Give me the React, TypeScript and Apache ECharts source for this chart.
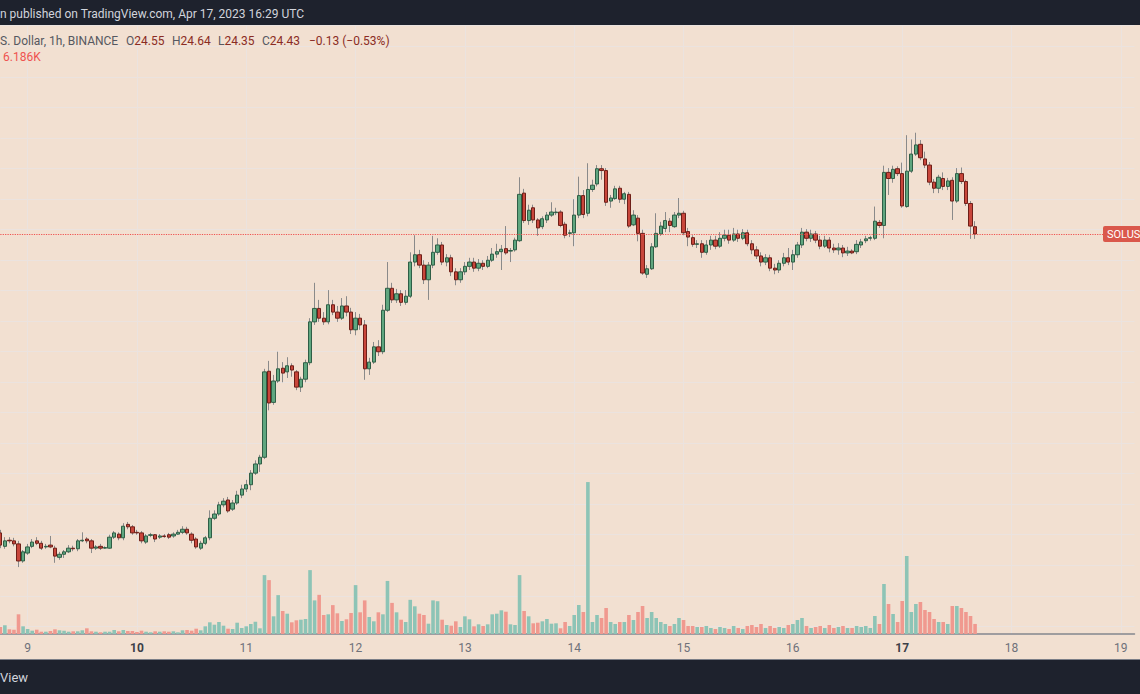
import React, { useEffect, useRef } from "react";
import * as echarts from "echarts";

// Hourly SOL/USD candles, first one at Apr 8 18:00, last at Apr 17 16:00
const opens = [
  19.53, 19.31, 19.41, 19.40, 19.35, 19.07, 19.20, 19.31, 19.40, 19.36,
  19.30, 19.33, 19.28, 19.13, 19.18, 19.22, 19.28, 19.27, 19.40, 19.43,
  19.40, 19.28, 19.31, 19.28, 19.28, 19.46, 19.51, 19.45, 19.67, 19.63,
  19.54, 19.53, 19.38, 19.49, 19.50, 19.46, 19.48, 19.50, 19.48, 19.51,
  19.54, 19.59, 19.51, 19.43, 19.28, 19.36, 19.45, 19.77, 19.84, 19.99,
  20.07, 19.92, 20.02, 20.15, 20.25, 20.32, 20.51, 20.66, 20.77, 22.18,
  21.67, 22.02, 22.23, 22.17, 22.27, 22.17, 21.92, 22.05, 22.32, 22.99,
  23.21, 23.05, 22.99, 23.27, 23.15, 23.05, 23.25, 23.15, 22.86, 23.05,
  22.94, 22.22, 22.33, 22.58, 22.50, 23.18, 23.54, 23.35, 23.45, 23.31,
  23.41, 23.97, 24.09, 23.92, 23.68, 23.92, 24.13, 24.25, 23.97, 24.04,
  23.81, 23.68, 23.81, 23.90, 23.97, 23.87, 23.95, 23.90, 24.00, 24.10,
  24.14, 24.19, 24.15, 24.17, 24.32, 25.10, 24.65, 24.86, 24.66, 24.55,
  24.66, 24.74, 24.78, 24.79, 24.59, 24.44, 24.45, 24.74, 25.06, 24.77,
  25.16, 25.25, 25.50, 25.47, 24.97, 25.01, 25.18, 25.00, 25.08, 24.58,
  24.69, 24.44, 23.77, 23.86, 24.22, 24.43, 24.52, 24.64, 24.55, 24.74,
  24.77, 24.47, 24.37, 24.26, 24.27, 24.13, 24.25, 24.33, 24.23, 24.36,
  24.41, 24.33, 24.43, 24.36, 24.45, 24.27, 24.17, 24.07, 23.97, 24.04,
  23.87, 23.84, 23.95, 24.04, 23.97, 24.09, 24.25, 24.46, 24.36, 24.43,
  24.33, 24.23, 24.33, 24.20, 24.17, 24.20, 24.12, 24.15, 24.14, 24.25,
  24.32, 24.36, 24.36, 24.62, 24.57, 25.44, 25.34, 25.50, 25.42, 24.88,
  25.46, 25.74, 25.90, 25.66, 25.56, 25.28, 25.18, 25.34, 25.21, 25.31,
  24.97, 25.42, 25.29, 24.93, 24.55
];
const closes = [
  19.33, 19.40, 19.40, 19.35, 19.07, 19.22, 19.30, 19.38, 19.36, 19.28,
  19.31, 19.30, 19.15, 19.18, 19.22, 19.28, 19.27, 19.40, 19.41, 19.40,
  19.28, 19.30, 19.28, 19.29, 19.46, 19.53, 19.45, 19.64, 19.63, 19.53,
  19.53, 19.40, 19.48, 19.50, 19.43, 19.48, 19.47, 19.46, 19.51, 19.54,
  19.59, 19.53, 19.41, 19.30, 19.36, 19.45, 19.77, 19.84, 19.99, 20.05,
  19.89, 20.02, 20.15, 20.25, 20.32, 20.51, 20.66, 20.77, 22.17, 21.66,
  22.02, 22.22, 22.15, 22.27, 22.20, 21.92, 22.05, 22.32, 22.99, 23.21,
  23.05, 22.99, 23.27, 23.15, 23.05, 23.25, 23.15, 22.86, 23.05, 22.94,
  22.22, 22.33, 22.58, 22.50, 23.18, 23.54, 23.35, 23.45, 23.31, 23.41,
  23.97, 24.09, 23.92, 23.68, 23.92, 24.13, 24.25, 23.97, 24.04, 23.81,
  23.68, 23.81, 23.90, 23.97, 23.87, 23.95, 23.90, 24.00, 24.10, 24.14,
  24.18, 24.12, 24.16, 24.33, 25.08, 24.65, 24.82, 24.66, 24.53, 24.68,
  24.74, 24.79, 24.79, 24.57, 24.41, 24.45, 24.74, 25.06, 24.75, 25.16,
  25.23, 25.50, 25.47, 24.95, 25.02, 25.17, 25.00, 25.09, 24.56, 24.74,
  24.44, 23.79, 23.86, 24.22, 24.44, 24.56, 24.65, 24.57, 24.74, 24.77,
  24.45, 24.38, 24.26, 24.27, 24.13, 24.25, 24.33, 24.23, 24.36, 24.41,
  24.33, 24.43, 24.36, 24.45, 24.27, 24.17, 24.07, 23.97, 24.04, 23.87,
  23.84, 23.95, 24.04, 23.97, 24.09, 24.25, 24.46, 24.36, 24.43, 24.33,
  24.23, 24.33, 24.20, 24.17, 24.20, 24.12, 24.15, 24.12, 24.26, 24.30,
  24.35, 24.37, 24.64, 24.57, 25.44, 25.34, 25.49, 25.42, 24.89, 25.46,
  25.74, 25.89, 25.68, 25.56, 25.28, 25.18, 25.36, 25.21, 25.30, 24.97,
  25.42, 25.29, 24.93, 24.56, 24.43
];
const lows = [
  19.28, 19.27, 19.36, 19.31, 18.97, 19.04, 19.17, 19.28, 19.33, 19.25,
  19.27, 19.28, 19.04, 19.09, 19.12, 19.20, 19.23, 19.23, 19.38, 19.36,
  19.20, 19.25, 19.25, 19.27, 19.27, 19.43, 19.41, 19.41, 19.59, 19.50,
  19.50, 19.36, 19.35, 19.46, 19.38, 19.43, 19.45, 19.43, 19.45, 19.50,
  19.51, 19.50, 19.36, 19.27, 19.25, 19.33, 19.41, 19.74, 19.81, 19.95,
  19.86, 19.89, 19.99, 20.10, 20.20, 20.23, 20.48, 20.53, 20.74, 21.54,
  21.63, 21.99, 22.00, 22.07, 22.09, 21.87, 21.84, 22.00, 22.28, 22.94,
  22.99, 22.94, 22.95, 23.10, 22.99, 23.02, 23.08, 22.79, 22.77, 22.86,
  22.04, 22.12, 22.30, 22.43, 22.46, 23.15, 23.30, 23.30, 23.25, 23.27,
  23.38, 23.90, 23.87, 23.61, 23.35, 23.87, 24.09, 23.92, 23.90, 23.74,
  23.59, 23.63, 23.76, 23.84, 23.81, 23.82, 23.84, 23.87, 23.97, 24.04,
  23.84, 24.09, 23.97, 24.14, 24.30, 24.61, 24.58, 24.61, 24.40, 24.51,
  24.61, 24.71, 24.74, 24.54, 24.36, 24.38, 24.23, 24.69, 24.69, 24.72,
  25.12, 25.21, 25.32, 24.89, 24.86, 24.99, 24.94, 24.92, 24.53, 24.56,
  24.31, 23.76, 23.71, 23.84, 24.20, 24.40, 24.46, 24.46, 24.53, 24.69,
  24.41, 24.23, 24.22, 24.20, 24.04, 24.09, 24.17, 24.18, 24.20, 24.31,
  24.27, 24.30, 24.30, 24.33, 24.23, 24.10, 24.02, 23.90, 23.92, 23.82,
  23.77, 23.79, 23.90, 23.92, 23.84, 24.04, 24.20, 24.31, 24.30, 24.28,
  24.18, 24.20, 24.13, 24.12, 24.09, 24.05, 24.07, 24.10, 24.10, 24.20,
  24.28, 24.32, 24.33, 24.53, 24.36, 25.07, 25.27, 25.38, 24.86, 24.86,
  25.43, 25.71, 25.64, 25.51, 25.23, 25.10, 25.10, 25.15, 25.15, 24.66,
  24.94, 25.25, 24.89, 24.35, 24.35
];
const highs = [
  19.58, 19.46, 19.46, 19.45, 19.40, 19.25, 19.35, 19.43, 19.46, 19.40,
  19.35, 19.48, 19.32, 19.22, 19.25, 19.33, 19.32, 19.43, 19.54, 19.46,
  19.43, 19.33, 19.35, 19.31, 19.50, 19.56, 19.54, 19.69, 19.71, 19.66,
  19.58, 19.56, 19.51, 19.53, 19.51, 19.51, 19.51, 19.53, 19.54, 19.58,
  19.64, 19.63, 19.54, 19.46, 19.40, 19.48, 19.90, 19.90, 20.04, 20.10,
  20.12, 20.07, 20.22, 20.32, 20.40, 20.56, 20.72, 20.81, 22.22, 22.35,
  22.12, 22.50, 22.33, 22.41, 22.31, 22.20, 22.09, 22.37, 23.05, 23.63,
  23.35, 23.15, 23.51, 23.35, 23.25, 23.38, 23.41, 23.22, 23.15, 23.12,
  23.02, 22.40, 22.66, 22.69, 23.27, 23.97, 23.63, 23.53, 23.51, 23.51,
  24.13, 24.41, 24.17, 24.00, 23.97, 24.40, 24.36, 24.30, 24.10, 24.09,
  23.87, 23.87, 23.97, 24.04, 24.04, 24.02, 24.00, 24.07, 24.20, 24.27,
  24.25, 24.56, 24.20, 24.37, 25.36, 25.17, 24.91, 24.91, 24.69, 24.72,
  24.79, 24.95, 24.86, 24.82, 24.63, 24.50, 25.00, 25.37, 25.15, 25.59,
  25.32, 25.56, 25.56, 25.51, 25.07, 25.22, 25.22, 25.12, 25.12, 24.82,
  24.74, 24.50, 23.92, 24.28, 24.77, 24.63, 24.79, 24.69, 24.79, 25.02,
  24.81, 24.53, 24.41, 24.33, 24.33, 24.33, 24.40, 24.40, 24.46, 24.50,
  24.50, 24.53, 24.50, 24.51, 24.50, 24.33, 24.23, 24.13, 24.10, 24.09,
  23.94, 24.00, 24.12, 24.20, 24.17, 24.30, 24.53, 24.51, 24.50, 24.48,
  24.40, 24.40, 24.38, 24.27, 24.28, 24.25, 24.22, 24.18, 24.33, 24.35,
  24.40, 24.40, 24.88, 24.66, 25.55, 25.51, 25.55, 25.54, 25.60, 26.05,
  25.98, 26.09, 25.97, 25.78, 25.61, 25.33, 25.40, 25.44, 25.35, 25.36,
  25.51, 25.52, 25.32, 24.97, 24.64
];
// Volume per candle, thousands
const volumesK = [
  25.2, 31.3, 16.9, 15.5, 70.9, 27.7, 18.0, 11.9, 15.5, 8.3,
  8.3, 10.8, 16.9, 13.3, 11.9, 8.3, 9.7, 9.7, 13.3, 20.5,
  9.7, 8.3, 6.1, 8.3, 8.3, 14.4, 9.7, 14.4, 10.8, 10.8,
  7.2, 11.9, 8.3, 6.1, 9.7, 8.3, 9.7, 8.3, 9.7, 6.1,
  13.3, 14.4, 11.9, 19.1, 13.3, 27.7, 42.1, 33.5, 43.2, 29.9,
  19.1, 18.0, 40.7, 21.6, 27.7, 36.0, 44.3, 20.5, 212.0, 194.0,
  63.7, 140.0, 82.8, 73.1, 42.1, 49.3, 51.5, 54.0, 230.0, 121.0,
  141.0, 68.4, 70.9, 104.0, 74.5, 46.8, 52.9, 75.6, 176.0, 78.1,
  121.0, 61.2, 45.7, 78.1, 70.9, 191.0, 112.0, 78.1, 51.5, 43.2,
  123.0, 99.7, 73.1, 68.4, 37.1, 121.0, 118.0, 51.5, 32.4, 29.9,
  45.7, 25.2, 63.7, 52.9, 27.7, 34.9, 28.8, 34.9, 70.9, 73.1,
  85.3, 80.3, 34.9, 32.4, 212.0, 82.8, 63.7, 38.5, 40.7, 45.7,
  54.0, 37.1, 38.5, 20.5, 43.2, 28.8, 68.4, 104.4, 79.2, 547.0,
  43.2, 68.4, 57.6, 93.6, 43.2, 36.0, 43.2, 43.2, 68.4, 50.4,
  79.2, 100.8, 57.6, 79.2, 57.6, 43.2, 36.0, 28.8, 36.0, 57.6,
  50.4, 28.8, 28.8, 25.2, 25.2, 28.8, 21.6, 18.0, 25.2, 21.6,
  18.0, 28.8, 21.6, 18.0, 28.8, 32.4, 25.2, 36.0, 21.6, 28.8,
  21.6, 25.2, 21.6, 32.4, 36.0, 50.4, 57.6, 28.8, 21.6, 25.2,
  28.8, 21.6, 32.4, 21.6, 25.2, 28.8, 21.6, 21.6, 28.8, 25.2,
  28.8, 21.6, 64.8, 36.0, 180.0, 108.0, 72.0, 43.2, 118.8, 280.8,
  79.2, 108.0, 115.2, 86.4, 79.2, 54.0, 43.2, 43.2, 36.0, 100.8,
  100.8, 93.6, 79.2, 64.8, 36.186
];
const dayLabels = ["9", "10", "11", "12", "13", "14", "15", "16", "17", "18", "19"];
const boldDays = ["10", "17"];
const lastPrice = 24.43;
const headerValues = ["24.55", "24.64", "24.35", "24.43"];
const headerChange = "\u22120.13 (\u22120.53%)";
const lastVolumeText = "6.186K";

const BG = "#f2e0d1";
const GRID_LINE = "#ebe3df";
const SLOTS = 250;
const FIRST_HOUR = 18;
const STEP = 4.555;

const categories = Array.from({ length: SLOTS }, (_, k) => {
  const h = FIRST_HOUR + k;
  const day = 8 + Math.floor(h / 24);
  const hr = h % 24;
  return `Apr ${day} ${String(hr).padStart(2, "0")}:00`;
});
const isMidnight = (idx: number) => (FIRST_HOUR + idx) % 24 === 0;
const dayLabelFor = (idx: number) => dayLabels[Math.floor((FIRST_HOUR + idx) / 24) - 1] ?? "";

const UP = "#5fa67f";
const UP_BORDER = "#2f5e46";
const DOWN = "#c8463b";
const DOWN_BORDER = "#6e1f18";
const WICK = "#8a8a8a";
const FONT = 'Roboto, "Noto Sans", sans-serif';

function buildOption() {
  const n = opens.length;
  const full = opens.map((o, i) => [o, closes[i], lows[i], highs[i]]);
  const bodies = opens.map((o, i) => [o, closes[i], Math.min(o, closes[i]), Math.max(o, closes[i])]);
  const vols = volumesK.slice(0, n).map((v, i) => ({
    value: v,
    itemStyle: { color: closes[i] >= opens[i] ? "#8dc4b6" : "#f0998f" },
  }));
  const gridLeft = 0.3;
  const gridWidth = (SLOTS - 1) * STEP;
  return {
    animation: false,
    backgroundColor: BG,
    grid: [
      { left: gridLeft, top: 25, width: gridWidth, height: 609 },
      { left: gridLeft, top: 454, width: gridWidth, height: 180 },
    ],
    xAxis: [
      {
        type: "category",
        gridIndex: 0,
        data: categories,
        boundaryGap: false,
        axisLine: { show: false },
        axisTick: { show: false },
        axisLabel: { show: false },
        splitLine: { show: true, interval: (i: number) => isMidnight(i), lineStyle: { color: GRID_LINE, width: 1 } },
      },
      {
        type: "category",
        gridIndex: 1,
        data: categories,
        boundaryGap: false,
        axisLine: { show: true, lineStyle: { color: "#85868c", width: 1.5 } },
        axisTick: { show: false },
        splitLine: { show: false },
        axisLabel: {
          show: true,
          interval: (i: number) => isMidnight(i),
          margin: 8,
          color: "#6f717a",
          fontSize: 12,
          fontFamily: FONT,
          formatter: (_v: string, i: number) => {
            const d = dayLabelFor(i);
            return boldDays.includes(d) ? `{b|${d}}` : d;
          },
          rich: { b: { color: "#3c3f48", fontWeight: "bold", fontSize: 12, fontFamily: FONT } },
        },
      },
    ],
    yAxis: [
      {
        type: "value",
        gridIndex: 0,
        min: 17.873,
        max: 27.856,
        splitNumber: 20,
        axisLine: { show: false },
        axisTick: { show: false },
        axisLabel: { show: false },
        splitLine: { show: true, lineStyle: { color: GRID_LINE, width: 1 } },
      },
      {
        type: "value",
        gridIndex: 1,
        min: 0,
        max: 648,
        axisLine: { show: false },
        axisTick: { show: false },
        axisLabel: { show: false },
        splitLine: { show: false },
      },
    ],
    series: [
      {
        type: "bar",
        name: "Volume",
        xAxisIndex: 1,
        yAxisIndex: 1,
        data: vols,
        barWidth: 3.6,
        clip: false,
        z: 1,
      },
      {
        type: "candlestick",
        name: "Wicks",
        xAxisIndex: 0,
        yAxisIndex: 0,
        data: full,
        barWidth: 1,
        clip: false,
        z: 2,
        itemStyle: { color: WICK, color0: WICK, borderColor: WICK, borderColor0: WICK, borderWidth: 1 },
      },
      {
        type: "candlestick",
        name: "SOLUSD",
        xAxisIndex: 0,
        yAxisIndex: 0,
        data: bodies,
        barWidth: 3.8,
        clip: false,
        z: 3,
        itemStyle: {
          color: UP,
          color0: DOWN,
          borderColor: UP_BORDER,
          borderColor0: DOWN_BORDER,
          borderWidth: 1,
        },
        markLine: {
          silent: true,
          symbol: ["none", "none"],
          label: { show: false },
          lineStyle: { color: "#ef5350", type: "dotted", width: 1.2 },
          data: [{ yAxis: lastPrice }],
        },
      },
    ],
    graphic: [
      { type: "rect", z: 100, shape: { x: 0, y: 0, width: 1140, height: 25 }, style: { fill: "#1e222d" } },
      {
        type: "text", z: 101, x: 0, y: 14,
        style: { text: "n published on TradingView.com, Apr 17, 2023 16:29 UTC", fill: "#d1d4dc", font: `12px ${FONT}`, verticalAlign: "middle" },
      },
      {
        type: "text", z: 101, x: 0, y: 41,
        style: { text: "S. Dollar, 1h, BINANCE", fill: "#555861", font: `12px ${FONT}`, verticalAlign: "middle" },
      },
      ...["O", "H", "L", "C"].map((k, i) => ({
        type: "text", z: 101, x: [126, 172, 218, 262][i], y: 41,
        style: {
          text: `{k|${k}}{v|${headerValues[i]}}`,
          verticalAlign: "middle",
          rich: {
            k: { fill: "#555861", font: `12px ${FONT}` },
            v: { fill: "#8a2c24", font: `12px ${FONT}` },
          },
        },
      })),
      {
        type: "text", z: 101, x: 309, y: 41,
        style: { text: headerChange, fill: "#8a2c24", font: `12px ${FONT}`, verticalAlign: "middle" },
      },
      {
        type: "text", z: 101, x: 3, y: 57,
        style: { text: lastVolumeText, fill: "#ef5350", font: `12px ${FONT}`, verticalAlign: "middle" },
      },
      { type: "rect", z: 100, shape: { x: 1103, y: 226, width: 40, height: 16, r: 2 }, style: { fill: "#da584b" } },
      {
        type: "text", z: 101, x: 1107, y: 234.5,
        style: { text: "SOLUS", fill: "#ffffff", font: `11px ${FONT}`, verticalAlign: "middle" },
      },
      { type: "rect", z: 100, shape: { x: 0, y: 659, width: 1140, height: 1 }, style: { fill: "#7c7f88" } },
      { type: "rect", z: 100, shape: { x: 0, y: 660, width: 1140, height: 34 }, style: { fill: "#1e222d" } },
      {
        type: "text", z: 101, x: 0, y: 677,
        style: { text: "View", fill: "#d1d4dc", font: `13px ${FONT}`, verticalAlign: "middle" },
      },
    ],
  };
}

export default function App() {
  const ref = useRef<HTMLDivElement>(null);
  useEffect(() => {
    document.body.style.margin = "0";
    if (!ref.current) return;
    const chart = echarts.init(ref.current, null, { renderer: "svg", width: 1140, height: 694 });
    chart.setOption(buildOption() as any);
    return () => chart.dispose();
  }, []);
  return <div ref={ref} style={{ width: 1140, height: 694, background: BG }} />;
}
